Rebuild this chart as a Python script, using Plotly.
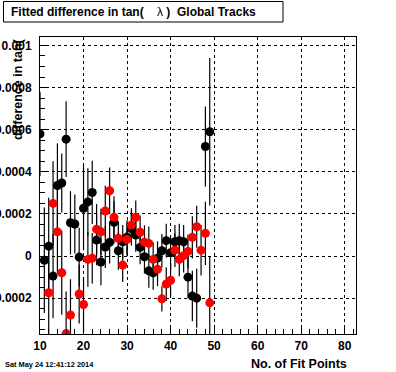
import plotly.graph_objects as go

# ---- data ----
black_x = [10, 11, 12, 13, 14, 15, 16, 17, 18, 19, 20, 21, 22, 23, 24, 25, 26, 27, 28, 29,
           30, 31, 32, 33, 34, 35, 36, 37, 38, 39, 40, 41, 42, 43, 44, 45, 46, 48, 49]
black_y = [0.00058, -0.00002, 0.000047, -0.000095, 0.000335, 0.000347, 0.000555, 0.000158,
           0.000152, -0.000005, 0.000227, 0.000257, 0.000302, 0.000076, -0.000028, 0.000043,
           0.000065, 0.00016, 0.000025, 0.000068, 0.00009, 0.00013, 0.0001, 0.000041,
           -0.000003, -0.00007, -0.00008, -0.00001, 0.000025, 0.000073, 0.000016, 0.000068,
           0.000073, 0.000068, -0.0001, -0.00019, -0.0002, 0.00052, 0.00059]
black_err = [0.0002, 0.00025, 0.00023, 0.0002, 0.0002, 0.00014, 0.00018, 0.00015, 0.00014,
             0.00014, 0.0002, 0.00016, 0.00015, 0.00012, 0.00011, 0.0001, 0.0001, 0.0001,
             0.00009, 0.00008, 0.00008, 0.00008, 0.00008, 0.00008, 0.00008, 0.00008,
             0.00008, 0.00008, 0.00008, 0.00008, 0.00008, 0.00008, 0.00008, 0.00008,
             0.0001, 0.00012, 0.00014, 0.00019, 0.00035]

red_x = [12, 13, 14, 15, 16, 17, 19, 20, 21, 22, 23, 24, 25, 26, 27, 28, 29, 30, 31, 32,
         33, 34, 35, 36, 37, 38, 39, 40, 41, 42, 43, 44, 45, 46, 47, 48, 49]
red_y = [-0.000174, 0.00025, 0.000115, -0.000079, -0.000368, -0.00028, -0.00018, -0.00023,
         -0.000016, -0.00001, 0.000127, 0.000115, 0.000214, 0.00031, 0.000184, 0.000084,
         -0.000043, 0.000079, 0.000147, 0.000184, 0.000113, 0.000066, 0.00006, -0.000016,
         -0.000063, -0.000203, -0.000133, -0.000115, 0.000028, -0.000016, 0.000002,
         0.000022, 0.000089, 0.000139, 0.000028, 0.000108, -0.000222]
red_err = [0.00024, 0.0002, 0.0002, 0.0002, 0.0002, 0.00017, 0.00014, 0.00013, 0.00013,
           0.00012, 0.00012, 0.00011, 0.00012, 0.00011, 0.0001, 0.00008, 0.00008, 0.00008,
           0.00008, 0.00008, 0.00008, 0.00008, 0.00008, 0.00008, 0.00008, 0.00006,
           0.00008, 0.00008, 0.00008, 0.00008, 0.00008, 0.00008, 0.0001, 0.0001, 0.00012,
           0.00015, 0.00022]

x_tickvals = [10, 20, 30, 40, 50, 60, 70, 80]
x_ticktext = ["10", "20", "30", "40", "50", "60", "70", "80"]
y_tickvals = [-0.0002, 0, 0.0002, 0.0004, 0.0006, 0.0008, 0.001]
y_ticktext = ["-0.0002", "0", "0.0002", "0.0004", "0.0006", "0.0008", "0.001"]

NB = "\u00a0"
title_html = ("<b>Fitted difference in tan(</b>" + NB * 4 + "λ" + NB + "<b>)</b>" + NB * 2
              + "<b>Global Tracks</b>")
ytitle_text = "difference in tan("
xtitle_text = "No. of Fit Points"
date_text = "Sat May 24 12:41:12 2014"

FONT = "Liberation Sans, Arial, Helvetica, sans-serif"

# plot-area geometry in pixels (for placing paper-referenced decorations)
W, H = 396, 372
L, R, T, B = 40, 40, 37, 38
PW, PH = W - L - R, H - T - B


def px_x(px):
    return (px - L) / PW


def px_y(py):
    return 1 - (py - T) / PH


fig = go.Figure()
fig.add_trace(go.Scatter(
    x=black_x, y=black_y, mode="markers",
    marker=dict(symbol="circle", size=9, color="black", line=dict(width=0)),
    error_y=dict(type="data", array=black_err, visible=True, color="black",
                 thickness=1.2, width=0),
    showlegend=False))
fig.add_trace(go.Scatter(
    x=red_x, y=red_y, mode="markers",
    marker=dict(symbol="circle", size=9, color="#ff0000", line=dict(width=0)),
    error_y=dict(type="data", array=red_err, visible=True, color="black",
                 thickness=1.2, width=0),
    showlegend=False))

axis_common = dict(
    showline=True, linecolor="black", linewidth=1, mirror=True,
    showgrid=True, gridcolor="black", gridwidth=1, griddash="dot",
    zeroline=False, ticks="inside", ticklen=9, tickcolor="black", tickwidth=1,
    tickfont=dict(family=FONT, size=12, color="black", weight="bold"),
    automargin=False,
)

fig.update_xaxes(
    range=[10, 82.6], tickmode="array", tickvals=x_tickvals, ticktext=x_ticktext,
    minor=dict(ticks="inside", ticklen=5, dtick=2, tick0=0, tickcolor="black",
               showgrid=False),
    ticklabelstandoff=1,
    **axis_common)
fig.update_yaxes(
    range=[-0.00037, 0.00104], tickmode="array", tickvals=y_tickvals, ticktext=y_ticktext,
    minor=dict(ticks="inside", ticklen=5, dtick=0.00005, tick0=0, tickcolor="black",
               showgrid=False),
    ticklabelstandoff=5,
    **axis_common)

fig.update_layout(
    width=W, height=H,
    margin=dict(l=L, r=R, t=T, b=B, pad=0),
    paper_bgcolor="white", plot_bgcolor="white",
    font=dict(family=FONT, color="black"),
    hovermode=False,
    shapes=[
        dict(type="rect", xref="paper", yref="paper",
             x0=px_x(3.5), x1=px_x(283), y0=px_y(22), y1=px_y(1.5),
             line=dict(color="black", width=1), fillcolor="white", layer="above"),
    ],
    annotations=[
        dict(text=title_html, xref="paper", yref="paper",
             x=px_x(9), y=px_y(11.8), xanchor="left", yanchor="middle", showarrow=False,
             align="left", font=dict(family=FONT, size=12, color="black")),
        dict(text="<b>" + ytitle_text + "</b>", xref="paper", yref="paper",
             x=px_x(18), y=px_y(36), xanchor="center", yanchor="top", textangle=-90,
             showarrow=False, font=dict(family=FONT, size=12.5, color="black")),
        dict(text="<b>" + xtitle_text + "</b>", xref="paper", yref="paper",
             x=px_x(349), y=px_y(364), xanchor="right", yanchor="middle", showarrow=False,
             font=dict(family=FONT, size=12.5, color="black")),
        dict(text="<b>" + date_text + "</b>", xref="paper", yref="paper",
             x=px_x(3), y=px_y(364), xanchor="left", yanchor="middle", showarrow=False,
             font=dict(family=FONT, size=7.4, color="black")),
    ],
)

fig.write_html("out.html",
               config={"displayModeBar": False, "staticPlot": True},
               post_script="document.body.style.margin='0';document.body.style.padding='0';")
